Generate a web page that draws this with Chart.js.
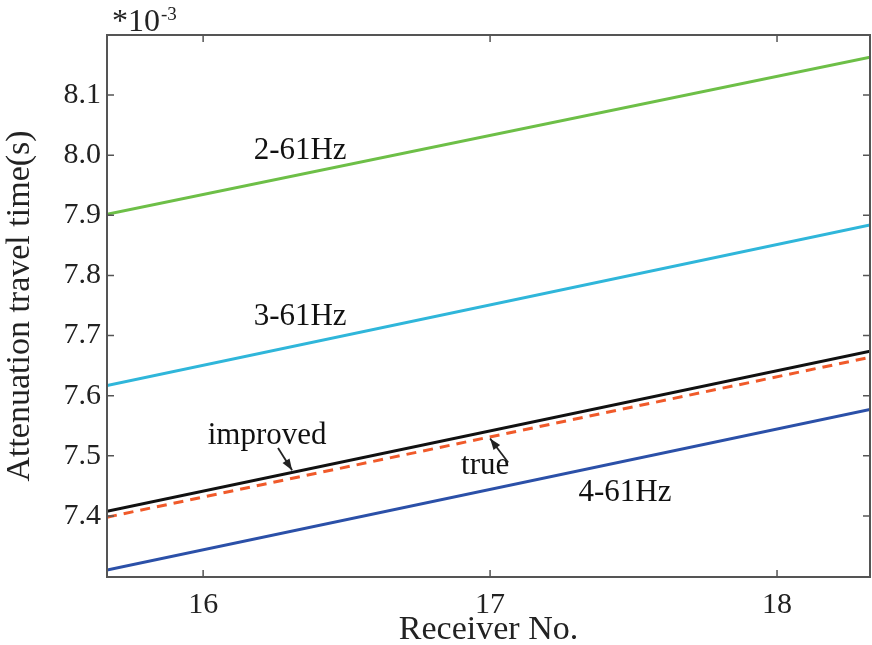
<!DOCTYPE html>
<html>
<head>
<meta charset="utf-8">
<script src="https://cdn.jsdelivr.net/npm/chart.js@4"></script>
<style>
  html, body { margin: 0; padding: 0; background: #fff; }
  #wrap { width: 872px; height: 645px; }
</style>
</head>
<body>
<div id="wrap"><canvas id="ttChart" width="872" height="645"></canvas></div>
<script>
// receiver range shown on the x axis (line end points)
const receivers = [15.665, 18.324];
// attenuation travel time, *10^-3 s
const f2_61 = [7.902, 8.163];
const f3_61 = [7.617, 7.884];
const improved = [7.408, 7.674];
const trueTT = [7.398, 7.664];
const f4_61 = [7.310, 7.577];

const xTicks = [16, 17, 18];
const yTicks = [7.4, 7.5, 7.6, 7.7, 7.8, 7.9, 8.0, 8.1];

// text labels placed in data units
const labels = [
  { text: '2-61Hz', x: 16.338, y: 8.008 },
  { text: '3-61Hz', x: 16.338, y: 7.731 },
  { text: 'improved', x: 16.223, y: 7.533 },
  { text: 'true', x: 16.983, y: 7.483 },
  { text: '4-61Hz', x: 17.470, y: 7.439 }
];
const arrows = [
  { from: [16.261, 7.513], to: [16.310, 7.476] },
  { from: [17.063, 7.489], to: [17.0, 7.529] }
];

const serif = '"Liberation Serif", "Times New Roman", serif';

const pts = vals => receivers.map((r, i) => ({ x: r, y: vals[i] }));

const frame = {
  id: 'frame',
  afterDraw(chart) {
    const { ctx, chartArea: a, scales: { x, y } } = chart;
    ctx.save();
    ctx.strokeStyle = '#555';
    ctx.lineWidth = 2;
    ctx.strokeRect(a.left, a.top, a.right - a.left, a.bottom - a.top);
    // inward ticks on all four sides
    ctx.lineWidth = 1.5;
    ctx.beginPath();
    xTicks.forEach(v => {
      const px = x.getPixelForValue(v);
      ctx.moveTo(px, a.bottom); ctx.lineTo(px, a.bottom - 7);
      ctx.moveTo(px, a.top); ctx.lineTo(px, a.top + 7);
    });
    yTicks.forEach(v => {
      const py = y.getPixelForValue(v);
      ctx.moveTo(a.left, py); ctx.lineTo(a.left + 7, py);
      ctx.moveTo(a.right, py); ctx.lineTo(a.right - 7, py);
    });
    ctx.stroke();

    // labels
    ctx.fillStyle = '#111';
    ctx.font = '31px ' + serif;
    ctx.textAlign = 'center';
    ctx.textBaseline = 'middle';
    labels.forEach(l => ctx.fillText(l.text, x.getPixelForValue(l.x), y.getPixelForValue(l.y)));

    // arrows
    ctx.strokeStyle = '#222';
    ctx.fillStyle = '#222';
    ctx.lineWidth = 1.8;
    arrows.forEach(ar => {
      const x0 = x.getPixelForValue(ar.from[0]), y0 = y.getPixelForValue(ar.from[1]);
      const x1 = x.getPixelForValue(ar.to[0]), y1 = y.getPixelForValue(ar.to[1]);
      const ang = Math.atan2(y1 - y0, x1 - x0);
      ctx.beginPath();
      ctx.moveTo(x0, y0); ctx.lineTo(x1, y1);
      ctx.stroke();
      ctx.beginPath();
      ctx.moveTo(x1, y1);
      ctx.lineTo(x1 - 12 * Math.cos(ang - 0.35), y1 - 12 * Math.sin(ang - 0.35));
      ctx.lineTo(x1 - 12 * Math.cos(ang + 0.35), y1 - 12 * Math.sin(ang + 0.35));
      ctx.closePath();
      ctx.fill();
    });

    // exponent label above the axis
    ctx.textAlign = 'left';
    ctx.textBaseline = 'alphabetic';
    ctx.font = '32px ' + serif;
    ctx.fillText('*10', a.left + 5, 31);
    const w = ctx.measureText('*10').width;
    ctx.font = '19px ' + serif;
    ctx.fillText('-3', a.left + 5 + w + 1, 20);
    ctx.restore();
  }
};

const line = (label, vals, color, dash) => ({
  label,
  data: pts(vals),
  borderColor: color,
  borderWidth: 3,
  borderDash: dash || [],
  pointRadius: 0,
  fill: false,
  tension: 0
});

new Chart(document.getElementById('ttChart').getContext('2d'), {
  type: 'line',
  data: {
    datasets: [
      line('2-61Hz', f2_61, '#6dbf47'),
      line('3-61Hz', f3_61, '#2fb6da'),
      line('true', trueTT, '#f05a2a', [10, 7]),
      line('improved', improved, '#111111'),
      line('4-61Hz', f4_61, '#2b50a8')
    ]
  },
  options: {
    responsive: false,
    animation: false,
    layout: { padding: { left: 0, top: 35, right: 2, bottom: 0 } },
    plugins: { legend: { display: false }, tooltip: { enabled: false } },
    scales: {
      x: {
        type: 'linear',
        min: receivers[0],
        max: receivers[1],
        afterBuildTicks: s => { s.ticks = xTicks.map(v => ({ value: v })); },
        afterFit: s => { s.height = 68; },
        grid: { display: false, drawTicks: false },
        border: { display: false },
        ticks: {
          color: '#222',
          padding: 10,
          font: { family: serif, size: 30 },
          callback: v => String(v)
        },
        title: {
          display: true,
          text: 'Receiver No.',
          color: '#222',
          padding: { top: 0, bottom: 0 },
          font: { family: serif, size: 34, lineHeight: 0.9 }
        }
      },
      y: {
        type: 'linear',
        min: 7.2985,
        max: 8.2,
        afterBuildTicks: s => { s.ticks = yTicks.map(v => ({ value: v })); },
        afterFit: s => { s.width = 107; },
        grid: { display: false, drawTicks: false },
        border: { display: false },
        ticks: {
          color: '#222',
          padding: 6,
          font: { family: serif, size: 30 },
          callback: v => v.toFixed(1)
        },
        title: {
          display: true,
          text: 'Attenuation travel time(s)',
          color: '#222',
          padding: { top: 0, bottom: 0 },
          font: { family: serif, size: 34 }
        }
      }
    }
  },
  plugins: [frame]
});
</script>
</body>
</html>
